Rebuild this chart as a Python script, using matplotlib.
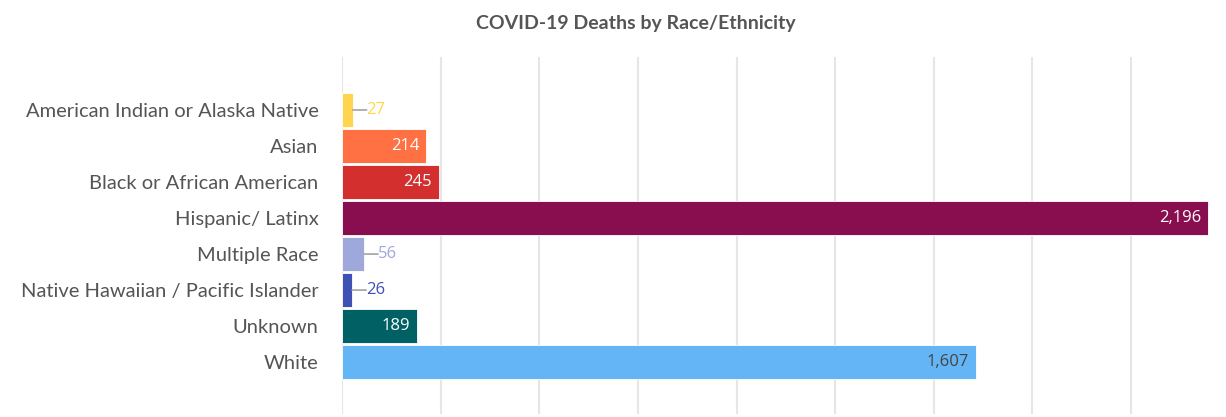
import matplotlib
matplotlib.use("Agg")
import matplotlib.pyplot as plt

categories = ["American Indian or Alaska Native", "Asian", "Black or African American",
              "Hispanic/ Latinx", "Multiple Race", "Native Hawaiian / Pacific Islander",
              "Unknown", "White"]
deaths = [27, 214, 245, 2196, 56, 26, 189, 1607]
colors = ["#FFD54F", "#FF7043", "#D32F2F", "#880E4F", "#9FA8DA", "#3F51B5", "#006064", "#64B5F6"]
inside_label_colors = ["#FFFFFF", "#FFFFFF", "#FFFFFF", "#FFFFFF", "#FFFFFF", "#FFFFFF", "#FFFFFF", "#444444"]
grid_ticks = [0, 250, 500, 750, 1000, 1250, 1500, 1750, 2000]
title = "COVID-19 Deaths by Race/Ethnicity"

fig = plt.figure(figsize=(12.26, 4.17), dpi=100)
ax = fig.add_axes([342/1226, 3/417, 868/1226, 357/417])

y = list(range(len(categories)))
ax.barh(y, deaths, height=0.95, color=colors, edgecolor="white", linewidth=0.6, zorder=3)
ax.set_xlim(0, 2200)
ax.set_ylim(8 - 1 + 1.44, -1.47)

ax.set_xticks(grid_ticks)
ax.xaxis.grid(True, color="#e6e6e6", linewidth=1.5, zorder=0)
ax.tick_params(axis="x", length=0, labelbottom=False)
ax.tick_params(axis="y", length=0, pad=17)
for s in ax.spines.values():
    s.set_visible(False)
ax.set_yticks(y)
ax.set_yticklabels(categories, fontsize=14.5, fontfamily="Lato", color="#555555")

threshold = 150
for yi, v, c, ic in zip(y, deaths, colors, inside_label_colors):
    if v >= threshold:
        ax.annotate(f"{v:,}", xy=(v, yi), xytext=(-5, 0), textcoords="offset points",
                    ha="right", va="center", fontsize=12, fontfamily="Open Sans",
                    color=ic, zorder=5)
    else:
        ax.annotate(f"{v}", xy=(v, yi), xytext=(10, 0), textcoords="offset points",
                    ha="left", va="center", fontsize=12, fontfamily="Open Sans",
                    color=c, zorder=5,
                    bbox=dict(boxstyle="square,pad=0", fc="none", ec="none"),
                    arrowprops=dict(arrowstyle="-", color="#aaaaaa", lw=1.3,
                                    shrinkA=0, shrinkB=0))

fig.text(636/1226, 1 - 23/417, title, ha="center", va="center", fontsize=14,
         fontweight="bold", fontfamily="Lato", color="#555555")

fig.savefig("out.png", dpi=100, facecolor="white")
